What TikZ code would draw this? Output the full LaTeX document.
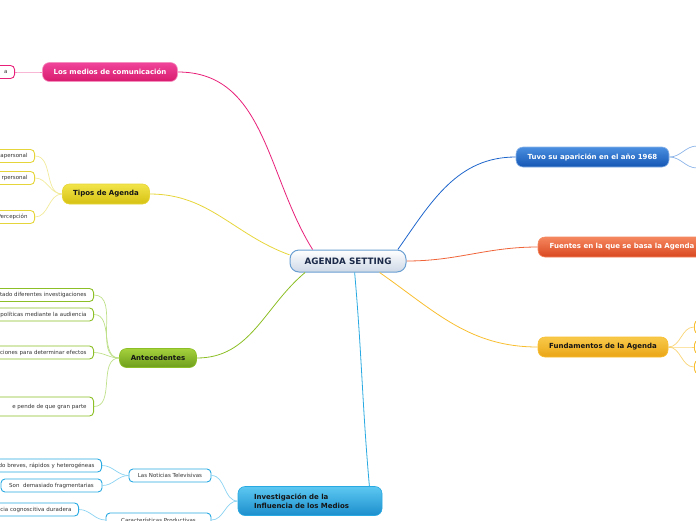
\documentclass[tikz,border=0pt]{standalone}
\usepackage{fontspec}
\setmainfont{DejaVu Sans}
\usepackage{tikz}
\usetikzlibrary{positioning}
\definecolor{cRootB}{HTML}{CDD8E6}
\definecolor{cRootL}{HTML}{6A9FD2}
\definecolor{cRootT}{HTML}{1B2A49}
\definecolor{cPinkA}{HTML}{F0449A}
\definecolor{cPinkB}{HTML}{D81B6E}
\definecolor{cPink}{HTML}{E8207A}
\definecolor{cPinkLt}{HTML}{F590BE}
\definecolor{cYelA}{HTML}{F2E44A}
\definecolor{cYelB}{HTML}{D6C112}
\definecolor{cYel}{HTML}{E6D53A}
\definecolor{cYelLt}{HTML}{F2EA9A}
\definecolor{cGrnA}{HTML}{A4D13C}
\definecolor{cGrnB}{HTML}{6E9E1C}
\definecolor{cGrn}{HTML}{8CBF26}
\definecolor{cGrnLt}{HTML}{BFE08A}
\definecolor{cCyaA}{HTML}{5CC8F2}
\definecolor{cCyaB}{HTML}{1C8ECC}
\definecolor{cCya}{HTML}{29A9E1}
\definecolor{cCyaLt}{HTML}{8AD3F2}
\definecolor{cBluA}{HTML}{4A8FE0}
\definecolor{cBluB}{HTML}{1456B4}
\definecolor{cBlu}{HTML}{1F66CC}
\definecolor{cBluLt}{HTML}{8CB4E8}
\definecolor{cRedA}{HTML}{F5875F}
\definecolor{cRedB}{HTML}{D9471F}
\definecolor{cRed}{HTML}{F0643A}
\definecolor{cOrgA}{HTML}{F8CA4A}
\definecolor{cOrgB}{HTML}{EAA516}
\definecolor{cOrg}{HTML}{F8BE30}
\definecolor{cOrgLt}{HTML}{F9D577}
\definecolor{cDark}{HTML}{151515}
\definecolor{cLeafT}{HTML}{333333}
\newcommand{\rootfont}{\fontsize{8.8}{10}\selectfont\bfseries}
\newcommand{\topicfont}{\fontsize{7}{8.5}\selectfont\bfseries}
\newcommand{\leaffont}{\fontsize{5.5}{6.5}\selectfont}

\begin{document}
\begin{tikzpicture}[x=1pt, y=-1pt,
  root/.style={draw=cRootL, line width=1pt, top color=white, bottom color=cRootB,
    rounded corners=9pt, minimum width=116pt, minimum height=22pt, inner sep=0pt,
    font=\rootfont, text=cRootT},
  topic/.style={rounded corners=7pt, minimum height=20pt, inner sep=0pt,
    line width=0.6pt, font=\topicfont},
  leaf/.style={draw, fill=white, rounded corners=4pt, line width=0.9pt,
    minimum height=13pt, inner xsep=5pt, inner ysep=0pt, font=\leaffont, text=cLeafT},
  cut/.style={anchor=east, text width=110pt, align=right, inner xsep=7pt},
  link/.style={line width=0.8pt},
  twig/.style={line width=0.7pt}]
  \useasboundingbox (0,0) rectangle (696,520);
  \clip (0,0) rectangle (696,520);

  % Central topic
  \node[root] (agenda) at (348,261) {AGENDA SETTING};

  % Los medios de comunicacion
  \node[topic, minimum width=135pt, minimum height=19pt, top color=cPinkA,
    bottom color=cPinkB, draw=cPinkLt, text=white] (medios) at (110,72) {Los medios de comunicación};
  \node[leaf, cut, draw=cPink] (mediosA) at (15,72) {a};

  % Tipos de Agenda
  \node[topic, minimum width=87pt, top color=cYelA, bottom color=cYelB,
    draw=cYel, text=cDark] (tipos) at (106,194) {Tipos de Agenda};
  \node[leaf, cut, draw=cYel] (tiposA) at (35,156) {apersonal};
  \node[leaf, cut, draw=cYel] (tiposB) at (35,178) {rpersonal};
  \node[leaf, cut, draw=cYel] (tiposC) at (35,217) {Percepción};

  % Antecedentes
  \node[topic, minimum width=77pt, minimum height=19pt, top color=cGrnA,
    bottom color=cGrnB, draw=cGrn, text=cDark] (antec) at (158,358) {Antecedentes};
  \node[leaf, cut, draw=cGrn] (antecA) at (94,295) {tado diferentes investigaciones};
  \node[leaf, cut, draw=cGrn] (antecB) at (94,314.5) {políticas mediante la audiencia};
  \node[leaf, cut, draw=cGrn] (antecC) at (94,352.5) {ciones para determinar efectos};
  \node[leaf, cut, draw=cGrn, minimum height=19pt] (antecD) at (94,406.5) {e pende de que gran parte};

  % Investigacion de la Influencia de los Medios
  \node[topic, minimum width=144pt, minimum height=29pt, top color=cCyaA,
    bottom color=cCyaB, draw=cCya, text=cDark, text width=112pt, align=left,
    inner xsep=16pt] (invest) at (310,501) {Investigación de la\\Influencia de los Medios};
  \node[leaf, draw=cCya, minimum width=82pt] (noticias) at (170,475.5) {Las Noticias Televisivas};
  \node[leaf, cut, draw=cCya] (noticiasA) at (102,465.5) {do breves, rápidos y heterogéneas};
  \node[leaf, draw=cCya, minimum width=101pt] (noticiasB) at (51.5,485.5) {Son~~demasiado fragmentarias};
  \node[leaf, draw=cCya, minimum width=105pt, minimum height=14pt] (caract) at (158.5,520) {Características Productivas};
  \node[leaf, cut, draw=cCya] (caractA) at (79,509.5) {cia cognoscitiva duradera};

  % Tuvo su aparicion en el anio 1968
  \node[topic, minimum width=153pt, top color=cBluA, bottom color=cBluB,
    draw=cBluLt, text=white] (tuvo) at (592.5,157) {Tuvo su aparición en el año 1968};
  \node[leaf, draw=cBlu, anchor=west, minimum width=50pt] (tuvoA) at (697,146) {};
  \node[leaf, draw=cBlu, anchor=west, minimum width=50pt] (tuvoB) at (697,168) {};

  % Fuentes en la que se basa la Agenda
  \node[topic, minimum width=168pt, top color=cRedA, bottom color=cRedB,
    draw=cRedA, text=white] (fuentes) at (622,247) {Fuentes en la que se basa la Agenda};

  % Fundamentos de la Agenda
  \node[topic, minimum width=130pt, top color=cOrgA, bottom color=cOrgB,
    draw=cOrg, text=cDark] (fund) at (603,347) {Fundamentos de la Agenda};
  \node[leaf, draw=cOrg, anchor=west, minimum width=50pt] (fundA) at (694,327) {};
  \node[leaf, draw=cOrg, anchor=west, minimum width=50pt] (fundB) at (694,347) {};
  \node[leaf, draw=cOrg, anchor=west, minimum width=50pt] (fundC) at (694,367) {};

  % Main branches
  \draw[link, cPink] (agenda.162) to[out=122, in=0] (medios.east);
  \draw[link, cYel] (agenda.174) to[out=160, in=0] (tipos.east);
  \draw[link, cGrn] (agenda.195) to[out=220, in=0] (antec.east);
  \draw[link, cCya] (agenda.300) to[out=-85, in=95] (invest.14);
  \draw[link, cBlu] (agenda.13) to[out=55, in=180] (tuvo.west);
  \draw[link, cRed] (agenda.east) to[out=0, in=180] (fuentes.west);
  \draw[link, cOrg] (agenda.340) to[out=-35, in=180] (fund.west);

  % Sub branches
  \draw[twig, cPinkLt] (medios.west) to[out=180, in=0] (mediosA.east);
  \foreach \k in {tiposA, tiposB, tiposC}
    \draw[twig, cYelLt] (tipos.west) to[out=180, in=0] (\k.east);
  \foreach \k in {antecA, antecB, antecC, antecD}
    \draw[twig, cGrnLt] (antec.west) to[out=180, in=0] (\k.east);
  \foreach \k in {noticias, caract}
    \draw[twig, cCyaLt] (invest.west) to[out=180, in=0] (\k.east);
  \foreach \k in {noticiasA, noticiasB}
    \draw[twig, cCyaLt] (noticias.west) to[out=180, in=0] (\k.east);
  \draw[twig, cCyaLt] (caract.west) to[out=180, in=0] (caractA.east);
  \foreach \k in {tuvoA, tuvoB}
    \draw[twig, cBluLt] (tuvo.east) to[out=0, in=180] (\k.west);
  \foreach \k in {fundA, fundB, fundC}
    \draw[twig, cOrgLt] (fund.east) to[out=0, in=180] (\k.west);
\end{tikzpicture}
\end{document}
